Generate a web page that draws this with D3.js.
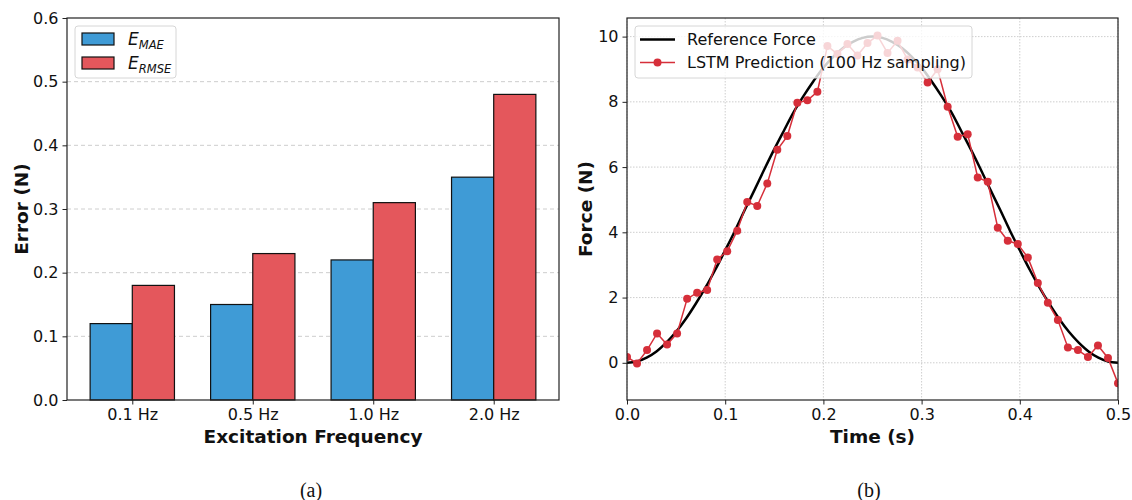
<!DOCTYPE html>
<html lang="en">
<head>
  <meta charset="UTF-8">
  <title>error-and-force</title>
  <script src="https://d3js.org/d3.v7.min.js"></script>
  <style>
    body { margin: 0; background: #fff; }
    text { font-family: "DejaVu Sans", sans-serif; fill: #111; }
  </style>
</head>
<body>
<script>
  const WIDTH = 1132;
  const HEIGHT = 500;

  // (a) bar chart data
  const freqLabels = ['0.1 Hz', '0.5 Hz', '1.0 Hz', '2.0 Hz'];
  const maeValues = [0.12, 0.15, 0.22, 0.35];
  const rmseValues = [0.18, 0.23, 0.31, 0.48];
  const errorTicks = [0.0, 0.1, 0.2, 0.3, 0.4, 0.5, 0.6];

  // (b) force data, reference sampled every 0.01 s, prediction 50 samples over 0..0.5 s
  const refForce = [0, 0.04, 0.16, 0.35, 0.62, 0.95, 1.35, 1.81, 2.31, 2.86,
    3.45, 4.05, 4.69, 5.31, 5.94, 6.55, 7.13, 7.70, 8.19, 8.64,
    9.05, 9.38, 9.65, 9.84, 9.96, 10.0, 9.96, 9.84, 9.65, 9.38,
    9.05, 8.64, 8.19, 7.70, 7.13, 6.55, 5.94, 5.31, 4.69, 4.05,
    3.45, 2.86, 2.31, 1.81, 1.35, 0.95, 0.62, 0.35, 0.16, 0.04, 0];
  const lstmForce = [0.18, -0.02, 0.39, 0.90, 0.56, 0.90, 1.96, 2.15, 2.23, 3.17,
    3.42, 4.05, 4.93, 4.81, 5.50, 6.53, 6.95, 7.97, 8.05, 8.31,
    9.71, 9.47, 9.77, 9.42, 9.80, 10.03, 9.50, 9.87, 9.30, 9.05,
    8.59, 9.00, 7.85, 6.93, 7.01, 5.68, 5.55, 4.14, 3.74, 3.64,
    3.23, 2.45, 1.84, 1.31, 0.47, 0.39, 0.18, 0.53, 0.15, -0.63];
  const timeTicks = [0.0, 0.1, 0.2, 0.3, 0.4, 0.5];
  const forceTicks = [0, 2, 4, 6, 8, 10];

  const refTime = refForce.map((d, i) => i * 0.01);
  const lstmTime = lstmForce.map((d, i) => i * 0.5 / (lstmForce.length - 1));

  const BLUE = '#3f9bd6';
  const RED = '#e4575c';
  const LINE_RED = '#d62f3a';

  const svg = d3.select('body')
    .append('svg')
    .attr('width', WIDTH)
    .attr('height', HEIGHT);

  function styleAxis(g) {
    g.selectAll('.domain').remove();
    g.selectAll('.tick line').attr('stroke', '#222').attr('stroke-width', 1);
    g.selectAll('.tick text').attr('font-size', 16).attr('fill', '#111')
      .attr('font-family', '"DejaVu Sans", sans-serif');
  }

  // ---------- (a) ----------
  const A = { left: 67, right: 559, top: 18, bottom: 400 };

  const xA = d3.scaleLinear().domain([-0.542, 3.542]).range([A.left, A.right]);
  const yA = d3.scaleLinear().domain([0, 0.6]).range([A.bottom, A.top]);
  const barW = xA(0.35) - xA(0);

  const gA = svg.append('g');

  gA.selectAll('line.grid')
    .data(errorTicks.slice(1, -1))
    .enter()
    .append('line')
    .attr('x1', A.left).attr('x2', A.right)
    .attr('y1', d => yA(d)).attr('y2', d => yA(d))
    .attr('stroke', '#c8c8c8')
    .attr('stroke-dasharray', '4,3')
    .attr('stroke-width', 0.9);

  gA.selectAll('rect.mae')
    .data(maeValues)
    .enter()
    .append('rect')
    .attr('x', (d, i) => xA(i) - barW)
    .attr('y', d => yA(d))
    .attr('width', barW)
    .attr('height', d => yA(0) - yA(d))
    .attr('fill', BLUE)
    .attr('stroke', '#111')
    .attr('stroke-width', 1.2);

  gA.selectAll('rect.rmse')
    .data(rmseValues)
    .enter()
    .append('rect')
    .attr('x', (d, i) => xA(i))
    .attr('y', d => yA(d))
    .attr('width', barW)
    .attr('height', d => yA(0) - yA(d))
    .attr('fill', RED)
    .attr('stroke', '#111')
    .attr('stroke-width', 1.2);

  gA.append('g')
    .attr('transform', `translate(0, ${A.bottom})`)
    .call(d3.axisBottom(xA).tickValues(d3.range(freqLabels.length))
      .tickFormat(i => freqLabels[i]).tickSize(4.5).tickPadding(4))
    .call(styleAxis);

  gA.append('g')
    .attr('transform', `translate(${A.left}, 0)`)
    .call(d3.axisLeft(yA).tickValues(errorTicks)
      .tickFormat(d3.format('.1f')).tickSize(4.5).tickPadding(4))
    .call(styleAxis);

  gA.append('rect')
    .attr('x', A.left).attr('y', A.top)
    .attr('width', A.right - A.left).attr('height', A.bottom - A.top)
    .attr('fill', 'none').attr('stroke', '#222').attr('stroke-width', 1.2);

  gA.append('text')
    .attr('x', (A.left + A.right) / 2).attr('y', 443)
    .attr('text-anchor', 'middle').attr('font-size', 18.5).attr('font-weight', 'bold')
    .text('Excitation Frequency');

  gA.append('text')
    .attr('transform', `translate(28, ${(A.top + A.bottom) / 2}) rotate(-90)`)
    .attr('text-anchor', 'middle').attr('font-size', 18.5).attr('font-weight', 'bold')
    .text('Error (N)');

  // legend (a)
  const legA = gA.append('g');
  legA.append('rect')
    .attr('x', 75).attr('y', 26).attr('width', 101).attr('height', 52)
    .attr('rx', 3).attr('fill', '#fff').attr('fill-opacity', 0.8)
    .attr('stroke', '#d6d6d6');
  const legItems = [{ c: BLUE, sub: 'MAE' }, { c: RED, sub: 'RMSE' }];
  legItems.forEach((it, i) => {
    const y = 33 + i * 24;
    legA.append('rect')
      .attr('x', 82).attr('y', y).attr('width', 32).attr('height', 12)
      .attr('fill', it.c).attr('stroke', '#111').attr('stroke-width', 1.2);
    const t = legA.append('text')
      .attr('x', 128).attr('y', y + 12)
      .attr('font-size', 17).attr('font-style', 'italic');
    t.append('tspan').text('E');
    t.append('tspan').attr('font-size', 11.5).attr('dy', 4).text(it.sub);
  });

  // ---------- (b) ----------
  const B = { left: 627, right: 1118, top: 18, bottom: 400 };

  const xB = d3.scaleLinear().domain([0, 0.5]).range([B.left, B.right]);
  const yB = d3.scaleLinear().domain([-1.14, 10.57]).range([B.bottom, B.top]);

  const gB = svg.append('g');

  gB.selectAll('line.vgrid')
    .data(timeTicks)
    .enter()
    .append('line')
    .attr('x1', d => xB(d)).attr('x2', d => xB(d))
    .attr('y1', B.top).attr('y2', B.bottom)
    .attr('stroke', '#c8c8c8').attr('stroke-dasharray', '1.5,1.5').attr('stroke-width', 0.9);

  gB.selectAll('line.hgrid')
    .data(forceTicks)
    .enter()
    .append('line')
    .attr('x1', B.left).attr('x2', B.right)
    .attr('y1', d => yB(d)).attr('y2', d => yB(d))
    .attr('stroke', '#c8c8c8').attr('stroke-dasharray', '1.5,1.5').attr('stroke-width', 0.9);

  svg.append('clipPath').attr('id', 'clipB')
    .append('rect')
    .attr('x', B.left).attr('y', B.top)
    .attr('width', B.right - B.left).attr('height', B.bottom - B.top);

  const plotB = gB.append('g').attr('clip-path', 'url(#clipB)');

  plotB.append('path')
    .datum(refForce)
    .attr('d', d3.line()
      .x((d, i) => xB(refTime[i]))
      .y(d => yB(d))
      .curve(d3.curveCatmullRom))
    .attr('fill', 'none')
    .attr('stroke', '#000')
    .attr('stroke-width', 2.5);

  plotB.append('path')
    .datum(lstmForce)
    .attr('d', d3.line()
      .x((d, i) => xB(lstmTime[i]))
      .y(d => yB(d)))
    .attr('fill', 'none')
    .attr('stroke', LINE_RED)
    .attr('stroke-width', 1.5);

  plotB.selectAll('circle')
    .data(lstmForce)
    .enter()
    .append('circle')
    .attr('cx', (d, i) => xB(lstmTime[i]))
    .attr('cy', d => yB(d))
    .attr('r', 4)
    .attr('fill', LINE_RED);

  gB.append('g')
    .attr('transform', `translate(0, ${B.bottom})`)
    .call(d3.axisBottom(xB).tickValues(timeTicks)
      .tickFormat(d3.format('.1f')).tickSize(4.5).tickPadding(4))
    .call(styleAxis);

  gB.append('g')
    .attr('transform', `translate(${B.left}, 0)`)
    .call(d3.axisLeft(yB).tickValues(forceTicks)
      .tickFormat(d3.format('d')).tickSize(4.5).tickPadding(4))
    .call(styleAxis);

  gB.append('rect')
    .attr('x', B.left).attr('y', B.top)
    .attr('width', B.right - B.left).attr('height', B.bottom - B.top)
    .attr('fill', 'none').attr('stroke', '#222').attr('stroke-width', 1.2);

  gB.append('text')
    .attr('x', (B.left + B.right) / 2).attr('y', 443)
    .attr('text-anchor', 'middle').attr('font-size', 18.5).attr('font-weight', 'bold')
    .text('Time (s)');

  gB.append('text')
    .attr('transform', `translate(592, ${(B.top + B.bottom) / 2}) rotate(-90)`)
    .attr('text-anchor', 'middle').attr('font-size', 18.5).attr('font-weight', 'bold')
    .text('Force (N)');

  // legend (b)
  const legB = gB.append('g');
  legB.append('rect')
    .attr('x', 635).attr('y', 26).attr('width', 337).attr('height', 52)
    .attr('rx', 3).attr('fill', '#fff').attr('fill-opacity', 0.8)
    .attr('stroke', '#d6d6d6');
  legB.append('line')
    .attr('x1', 640).attr('x2', 675).attr('y1', 39.5).attr('y2', 39.5)
    .attr('stroke', '#000').attr('stroke-width', 2.5);
  legB.append('line')
    .attr('x1', 640).attr('x2', 675).attr('y1', 62.5).attr('y2', 62.5)
    .attr('stroke', LINE_RED).attr('stroke-width', 1.5);
  legB.append('circle')
    .attr('cx', 657.5).attr('cy', 62.5).attr('r', 4).attr('fill', LINE_RED);
  legB.append('text').attr('x', 687).attr('y', 45).attr('font-size', 16)
    .text('Reference Force');
  legB.append('text').attr('x', 687).attr('y', 68).attr('font-size', 16)
    .text('LSTM Prediction (100 Hz sampling)');

  // panel captions
  svg.append('text')
    .attr('x', 311).attr('y', 497).attr('text-anchor', 'middle')
    .attr('font-size', 20).style('font-family', '"Liberation Serif", serif')
    .text('(a)');
  svg.append('text')
    .attr('x', 869).attr('y', 497).attr('text-anchor', 'middle')
    .attr('font-size', 20).style('font-family', '"Liberation Serif", serif')
    .text('(b)');
</script>
</body>
</html>
